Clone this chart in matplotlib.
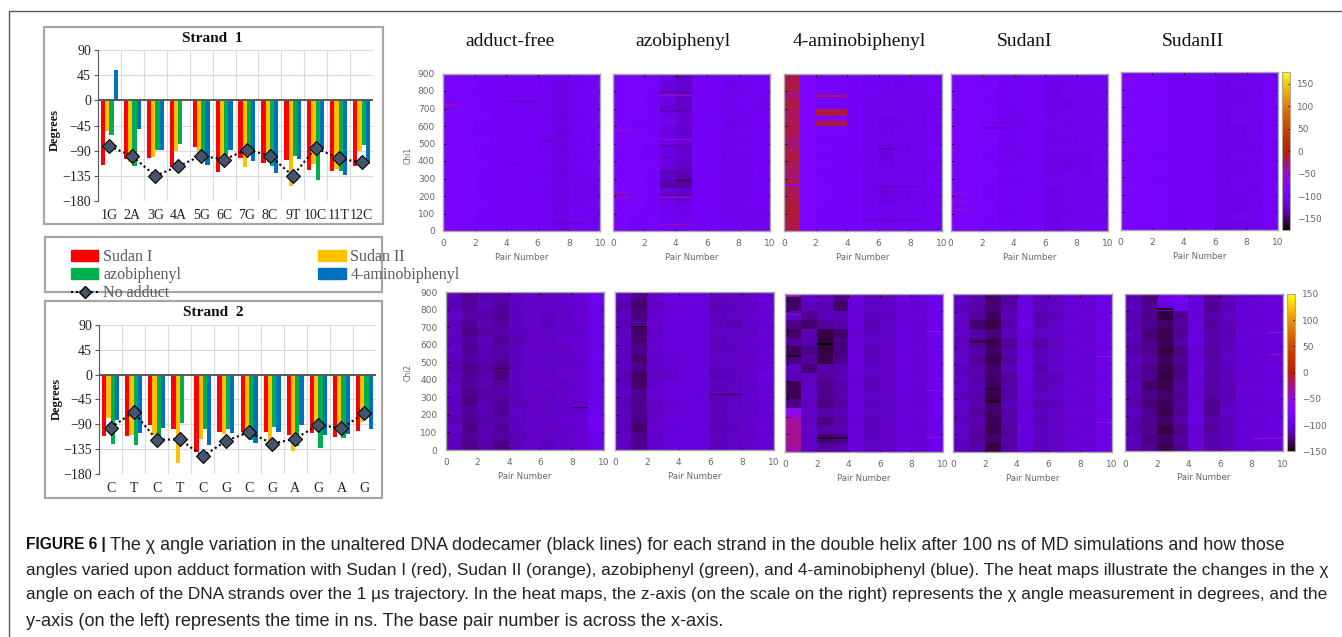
import numpy as np
import matplotlib
matplotlib.use("Agg")
import matplotlib.pyplot as plt
from matplotlib.lines import Line2D
from matplotlib.patches import Patch, Rectangle
from matplotlib.transforms import Bbox

W, H = 1342, 637
SERIF = "Liberation Serif"
SANS = "Liberation Sans"

# bar charts
bases_1 = ["1G", "2A", "3G", "4A", "5G", "6C", "7G", "8C", "9T", "10C", "11T", "12C"]
sudan1_1 = [-115, -105, -104, -120, -84, -129, -104, -112, -107, -124, -126, -118]
sudan2_1 = [-55, -110, -102, -90, -106, -105, -119, -90, -154, -113, -122, -90]
azo_1 = [-62, -118, -88, -78, -95, -98, -90, -118, -100, -143, -126, -80]
amino_1 = [55, -51, -89, 0, -116, -88, -108, -130, -105, -85, -133, -113]
noadd_1 = [-82, -100, -135, -118, -99, -106, -88, -99, -135, -85, -104, -111]

bases_2 = ["C", "T", "C", "T", "C", "G", "C", "G", "A", "G", "A", "G"]
sudan1_2 = [-112, -112, -92, -99, -140, -104, -104, -104, -110, -105, -113, -102]
sudan2_2 = [-78, -110, -110, -160, -117, -108, -100, -125, -139, -90, -93, -85]
azo_2 = [-125, -128, -118, -88, -98, -98, -118, -95, -130, -133, -114, -70]
amino_2 = [-82, -105, -97, 0, -127, -105, -123, -103, -92, -109, -107, -99]
noadd_2 = [-96, -68, -118, -117, -148, -120, -104, -125, -116, -91, -97, -70]

# heat maps, read in blocks of 50 ns, first row is 850-900 ns
adduct_free_1 = [
    [-96, -98, -99, -101, -102, -102, -104, -108, -104, -102],
    [-95, -97, -100, -100, -103, -101, -106, -111, -108, -103],
    [-97, -98, -99, -102, -103, -104, -105, -113, -104, -102],
    [-95, -97, -99, -101, -105, -106, -104, -110, -105, -103],
    [-96, -96, -98, -103, -104, -102, -106, -114, -106, -104],
    [-94, -97, -99, -100, -102, -103, -105, -112, -104, -102],
    [-96, -98, -100, -102, -103, -101, -104, -115, -105, -103],
    [-95, -96, -98, -101, -102, -103, -108, -113, -106, -102],
    [-94, -97, -99, -100, -103, -102, -106, -114, -105, -104],
    [-96, -96, -100, -102, -105, -104, -105, -112, -106, -103],
    [-95, -97, -98, -101, -103, -102, -104, -111, -104, -102],
    [-94, -98, -99, -100, -102, -103, -106, -114, -106, -105],
    [-96, -96, -100, -103, -104, -104, -105, -112, -108, -106],
    [-95, -97, -99, -102, -103, -103, -106, -111, -107, -108],
    [-94, -98, -98, -100, -104, -102, -105, -113, -106, -104],
    [-96, -96, -99, -101, -102, -103, -104, -110, -105, -106],
    [-95, -97, -100, -100, -103, -101, -105, -112, -104, -103],
    [-95, -99, -99, -102, -104, -102, -106, -114, -106, -105],
]
azo_heat_1 = [
    [-94, -96, -99, -112, -124, -103, -104, -108, -106, -103],
    [-96, -98, -98, -116, -120, -102, -103, -110, -108, -104],
    [-95, -97, -100, -110, -122, -102, -105, -107, -105, -105],
    [-94, -96, -99, -116, -124, -103, -103, -106, -105, -107],
    [-96, -97, -98, -112, -120, -101, -104, -108, -106, -103],
    [-95, -99, -100, -108, -118, -102, -105, -110, -107, -105],
    [-94, -96, -99, -114, -122, -104, -103, -107, -105, -104],
    [-96, -97, -98, -110, -116, -102, -104, -108, -106, -105],
    [-95, -96, -100, -112, -122, -103, -105, -106, -105, -104],
    [-94, -98, -99, -114, -120, -101, -103, -109, -108, -105],
    [-93, -96, -98, -116, -122, -103, -104, -107, -106, -104],
    [-94, -97, -99, -124, -130, -102, -105, -108, -109, -103],
    [-95, -96, -100, -128, -136, -104, -103, -106, -105, -104],
    [-92, -96, -98, -116, -122, -102, -104, -107, -106, -105],
    [-93, -97, -99, -110, -116, -103, -103, -108, -105, -103],
    [-94, -96, -100, -106, -110, -101, -105, -106, -106, -107],
    [-95, -99, -98, -104, -108, -102, -104, -107, -108, -105],
    [-94, -103, -99, -106, -108, -103, -103, -106, -109, -108],
]
amino_heat_1 = [
    [-17, -92, -98, -100, -100, -106, -108, -106, -108, -104],
    [-15, -91, -99, -102, -102, -106, -107, -110, -107, -105],
    [-24, -92, -98, -100, -101, -105, -108, -106, -110, -104],
    [-14, -90, -100, -101, -100, -107, -110, -108, -106, -106],
    [-20, -92, -98, -100, -102, -106, -108, -107, -108, -104],
    [-18, -91, -96, -97, -100, -108, -112, -110, -109, -105],
    [-16, -92, -98, -96, -101, -106, -110, -108, -107, -106],
    [-24, -90, -99, -100, -100, -107, -109, -106, -108, -104],
    [-22, -92, -98, -99, -102, -108, -112, -110, -108, -105],
    [-14, -91, -100, -101, -103, -106, -114, -108, -107, -104],
    [-18, -92, -98, -100, -100, -107, -110, -108, -108, -106],
    [-24, -90, -99, -101, -102, -106, -108, -107, -109, -105],
    [-16, -92, -98, -100, -101, -108, -110, -108, -107, -104],
    [-18, -91, -97, -99, -100, -110, -114, -112, -108, -106],
    [-14, -92, -98, -100, -102, -108, -112, -110, -109, -105],
    [-12, -90, -99, -101, -100, -106, -108, -107, -106, -104],
    [-15, -92, -100, -100, -101, -108, -110, -108, -108, -106],
    [-14, -91, -98, -101, -102, -106, -108, -108, -106, -104],
]
sudan1_heat_1 = [
    [-97, -97, -98, -105, -104, -102, -110, -108, -108, -105],
    [-96, -98, -97, -108, -105, -103, -113, -110, -109, -108],
    [-97, -97, -99, -105, -104, -102, -111, -108, -107, -105],
    [-96, -98, -98, -106, -105, -103, -112, -111, -109, -106],
    [-97, -96, -97, -106, -104, -102, -110, -108, -108, -105],
    [-96, -97, -100, -108, -110, -103, -108, -110, -108, -106],
    [-95, -96, -98, -104, -105, -102, -110, -108, -109, -107],
    [-94, -95, -97, -106, -105, -103, -111, -110, -108, -105],
    [-94, -94, -98, -107, -104, -102, -109, -108, -107, -106],
    [-95, -96, -99, -105, -106, -103, -111, -110, -110, -105],
    [-96, -97, -98, -106, -105, -104, -113, -114, -112, -106],
    [-96, -96, -97, -105, -104, -103, -110, -108, -109, -105],
    [-97, -97, -98, -106, -106, -104, -108, -110, -107, -106],
    [-96, -96, -99, -105, -105, -103, -111, -109, -108, -108],
    [-96, -97, -98, -104, -104, -102, -110, -108, -109, -106],
    [-97, -96, -97, -106, -105, -104, -112, -110, -107, -105],
    [-96, -98, -99, -105, -104, -103, -113, -108, -108, -106],
    [-97, -97, -98, -104, -106, -102, -110, -109, -107, -105],
]
sudan2_heat_1 = [
    [-93, -94, -97, -105, -104, -103, -112, -110, -110, -104],
    [-92, -95, -96, -103, -102, -102, -111, -108, -108, -103],
    [-93, -94, -97, -102, -103, -101, -110, -112, -109, -104],
    [-92, -94, -96, -104, -102, -103, -112, -110, -108, -102],
    [-94, -95, -98, -103, -104, -102, -110, -109, -110, -104],
    [-93, -94, -97, -101, -102, -103, -111, -108, -108, -105],
    [-92, -95, -96, -103, -105, -102, -112, -112, -109, -103],
    [-93, -94, -97, -102, -103, -101, -110, -110, -108, -102],
    [-92, -94, -98, -104, -102, -103, -113, -112, -110, -104],
    [-94, -96, -100, -103, -104, -102, -110, -108, -108, -103],
    [-93, -95, -98, -102, -103, -103, -111, -110, -109, -102],
    [-94, -94, -97, -105, -104, -104, -113, -110, -108, -104],
    [-93, -96, -99, -103, -102, -102, -111, -108, -108, -103],
    [-92, -94, -97, -102, -104, -103, -110, -109, -110, -102],
    [-93, -95, -98, -104, -103, -102, -112, -110, -108, -104],
    [-92, -94, -97, -103, -102, -101, -113, -112, -109, -103],
    [-93, -95, -98, -106, -104, -103, -110, -108, -108, -102],
    [-92, -94, -97, -104, -103, -102, -113, -111, -110, -104],
]
adduct_free_2 = [
    [-108, -120, -113, -116, -110, -106, -108, -106, -103, -94],
    [-112, -118, -110, -117, -108, -107, -106, -105, -104, -93],
    [-106, -116, -114, -120, -111, -105, -109, -107, -102, -95],
    [-110, -119, -112, -118, -109, -106, -110, -105, -104, -94],
    [-108, -122, -115, -114, -110, -108, -107, -106, -105, -96],
    [-110, -118, -111, -119, -112, -106, -108, -104, -103, -95],
    [-107, -120, -113, -116, -109, -107, -106, -107, -102, -96],
    [-109, -117, -112, -117, -110, -105, -109, -105, -104, -94],
    [-112, -121, -116, -122, -111, -106, -107, -106, -105, -97],
    [-108, -119, -113, -124, -108, -107, -108, -104, -103, -95],
    [-110, -118, -112, -118, -110, -105, -106, -107, -104, -96],
    [-107, -121, -115, -116, -109, -106, -109, -106, -102, -94],
    [-110, -124, -113, -118, -111, -108, -107, -105, -104, -95],
    [-108, -118, -112, -120, -108, -106, -108, -106, -105, -93],
    [-112, -120, -114, -116, -110, -107, -106, -104, -103, -92],
    [-107, -124, -112, -119, -109, -105, -108, -106, -104, -93],
    [-110, -119, -113, -117, -111, -108, -107, -105, -102, -95],
    [-109, -122, -116, -124, -110, -106, -110, -106, -104, -96],
]
azo_heat_2 = [
    [-110, -122, -106, -100, -100, -100, -110, -108, -106, -102],
    [-114, -128, -108, -101, -99, -101, -112, -110, -107, -101],
    [-108, -124, -105, -99, -100, -100, -109, -107, -105, -103],
    [-112, -120, -104, -100, -98, -99, -110, -112, -106, -102],
    [-110, -130, -106, -101, -100, -100, -108, -108, -108, -101],
    [-108, -126, -105, -99, -99, -101, -110, -107, -105, -102],
    [-111, -122, -104, -100, -100, -100, -109, -109, -106, -103],
    [-110, -128, -106, -102, -101, -99, -107, -106, -107, -100],
    [-109, -122, -106, -104, -100, -100, -110, -108, -105, -102],
    [-112, -130, -108, -106, -100, -101, -112, -110, -106, -98],
    [-110, -128, -105, -100, -99, -100, -108, -108, -107, -100],
    [-108, -120, -104, -99, -100, -102, -111, -110, -105, -101],
    [-112, -122, -106, -102, -101, -100, -112, -108, -106, -102],
    [-110, -120, -107, -101, -100, -99, -109, -107, -107, -103],
    [-109, -124, -105, -100, -99, -100, -110, -108, -105, -102],
    [-111, -128, -104, -102, -100, -101, -112, -110, -106, -101],
    [-110, -122, -106, -100, -99, -100, -109, -107, -107, -103],
    [-108, -120, -105, -101, -100, -101, -110, -108, -105, -102],
]
amino_heat_2 = [
    [-132, -106, -110, -124, -100, -110, -108, -100, -102, -95],
    [-130, -108, -112, -128, -99, -108, -106, -101, -103, -94],
    [-108, -120, -111, -112, -101, -110, -109, -100, -101, -96],
    [-122, -128, -118, -116, -100, -112, -107, -99, -102, -95],
    [-130, -112, -136, -128, -102, -110, -108, -100, -103, -94],
    [-118, -114, -138, -124, -100, -108, -106, -101, -102, -96],
    [-132, -122, -136, -126, -101, -111, -108, -100, -101, -95],
    [-124, -118, -134, -122, -99, -109, -107, -99, -103, -94],
    [-108, -126, -116, -114, -100, -108, -106, -101, -102, -96],
    [-112, -108, -118, -112, -102, -110, -108, -100, -101, -95],
    [-132, -108, -122, -116, -100, -111, -107, -99, -102, -94],
    [-134, -106, -120, -114, -101, -108, -106, -100, -103, -95],
    [-122, -108, -124, -118, -99, -110, -108, -101, -102, -96],
    [-55, -107, -116, -112, -100, -108, -107, -100, -101, -94],
    [-32, -108, -124, -116, -102, -110, -106, -99, -103, -95],
    [-30, -106, -116, -112, -100, -111, -108, -100, -102, -96],
    [-28, -108, -128, -122, -101, -109, -107, -101, -101, -94],
    [-32, -107, -118, -114, -100, -108, -106, -100, -104, -95],
]
sudan1_heat_2 = [
    [-108, -114, -130, -118, -100, -112, -108, -103, -102, -97],
    [-110, -116, -126, -116, -98, -110, -107, -101, -103, -96],
    [-106, -118, -132, -112, -99, -114, -109, -102, -101, -98],
    [-108, -128, -134, -114, -96, -112, -107, -100, -102, -96],
    [-107, -116, -126, -110, -100, -108, -106, -103, -103, -97],
    [-110, -120, -132, -118, -102, -116, -110, -101, -102, -96],
    [-108, -116, -130, -114, -99, -112, -107, -102, -101, -98],
    [-106, -118, -134, -116, -100, -110, -108, -100, -102, -97],
    [-110, -114, -128, -112, -98, -114, -106, -103, -103, -96],
    [-108, -116, -130, -118, -100, -110, -109, -101, -102, -98],
    [-107, -112, -132, -114, -99, -112, -107, -102, -101, -96],
    [-110, -116, -134, -116, -100, -108, -106, -100, -103, -97],
    [-106, -114, -128, -112, -101, -112, -109, -103, -102, -96],
    [-108, -118, -130, -116, -99, -110, -107, -101, -101, -98],
    [-110, -114, -132, -114, -100, -112, -108, -102, -103, -94],
    [-107, -116, -134, -118, -98, -108, -106, -100, -102, -96],
    [-108, -118, -130, -114, -100, -110, -109, -103, -101, -97],
    [-110, -116, -136, -116, -101, -112, -107, -101, -102, -96],
]
sudan2_heat_2 = [
    [-112, -124, -96, -90, -102, -118, -110, -103, -102, -100],
    [-110, -120, -100, -94, -100, -120, -112, -102, -101, -101],
    [-114, -122, -138, -120, -102, -116, -108, -104, -103, -99],
    [-112, -120, -130, -118, -100, -118, -111, -102, -102, -100],
    [-110, -126, -134, -120, -101, -116, -112, -103, -101, -101],
    [-112, -122, -132, -116, -99, -114, -109, -101, -103, -99],
    [-114, -120, -136, -122, -102, -118, -110, -102, -102, -100],
    [-110, -118, -132, -120, -100, -116, -108, -104, -101, -101],
    [-112, -122, -134, -124, -101, -114, -110, -102, -103, -99],
    [-114, -120, -136, -122, -99, -116, -111, -103, -102, -100],
    [-110, -128, -134, -118, -100, -118, -109, -101, -101, -101],
    [-112, -122, -130, -120, -102, -114, -112, -102, -103, -99],
    [-114, -126, -132, -118, -100, -122, -110, -104, -102, -100],
    [-110, -120, -134, -120, -101, -120, -108, -102, -101, -101],
    [-112, -122, -130, -116, -99, -116, -111, -103, -103, -99],
    [-114, -120, -136, -122, -102, -118, -110, -101, -102, -100],
    [-110, -124, -130, -118, -100, -114, -109, -102, -101, -101],
    [-112, -120, -134, -120, -101, -116, -110, -103, -103, -99],
]

# thin features on top of the blocks: first col, last col, from ns, to ns, angle
streaks_top = [
    [(0, 1, 715, 725, -45), (4, 6, 735, 745, -125), (7, 9, 40, 50, -120),
     (6, 8, 510, 520, -118), (4, 5, 385, 390, -120)],
    [(3, 5, 770, 775, -45), (0, 1, 570, 575, -45), (3, 5, 520, 525, -45), (0, 1, 215, 225, -30),
     (0, 1, 190, 195, -40), (3, 5, 190, 195, -40), (3, 5, 35, 40, -45), (4, 5, 280, 300, -150),
     (3, 5, 245, 275, -135), (3, 5, 200, 210, -135), (3, 5, 320, 345, -130), (3, 5, 415, 425, -128),
     (3, 5, 480, 490, -128), (3, 5, 680, 690, -130), (3, 5, 790, 800, -130), (4, 5, 870, 885, -130)],
    [(2, 4, 765, 775, -15), (2, 4, 535, 540, -30), (2, 4, 660, 695, -15), (2, 4, 600, 630, -15),
     (2, 4, 630, 640, -70), (0, 1, 260, 270, -70), (6, 7, 465, 475, -130), (5, 9, 60, 65, -125),
     (6, 9, 250, 255, -125)],
    [(0, 1, 330, 335, -45), (0, 1, 210, 215, -45), (0, 1, 165, 170, -45), (0, 1, 120, 125, -45),
     (2, 4, 585, 595, -120)],
    [(0, 1, 855, 860, -50), (0, 1, 785, 790, -50), (3, 5, 860, 865, -118)],
]
streaks_bottom = [
    [(8, 9, 240, 245, -140), (3, 4, 465, 470, -135), (1, 2, 460, 465, -135), (5, 6, 745, 750, -85)],
    [(1, 2, 700, 710, -150), (1, 2, 620, 630, -138), (6, 8, 315, 320, -135)],
    [(9, 10, 680, 685, -45), (9, 10, 345, 350, -60), (9, 10, 80, 85, -45), (2, 3, 610, 620, -150),
     (2, 4, 75, 85, -140), (0, 1, 540, 550, -145), (0, 1, 680, 690, -140), (0, 1, 880, 900, -40),
     (0, 1, 780, 785, -40)],
    [(9, 10, 540, 545, -45), (9, 10, 165, 170, -45), (2, 3, 280, 300, -140), (2, 3, 355, 365, -140),
     (1, 3, 620, 640, -135)],
    [(9, 10, 800, 805, -60), (9, 10, 675, 680, -45), (9, 10, 550, 555, -45), (8, 10, 70, 75, -50),
     (2, 3, 810, 820, -145)],
]

heat_titles = ["adduct-free", "azobiphenyl", "4-aminobiphenyl", "SudanI", "SudanII"]
title_x = [510, 683, 859, 1025, 1193]
top_maps = [adduct_free_1, azo_heat_1, amino_heat_1, sudan1_heat_1, sudan2_heat_1]
bottom_maps = [adduct_free_2, azo_heat_2, amino_heat_2, sudan1_heat_2, sudan2_heat_2]

# left, top, right, bottom in pixels
top_boxes = [(443.4, 73.5, 600.4, 231), (612.8, 73.5, 770.2, 231), (784, 73.5, 941.7, 231),
             (950.7, 74, 1108, 231), (1120.7, 72.3, 1278, 230)]
bottom_boxes = [(445.8, 292.3, 603.5, 450), (615.2, 292.3, 773.6, 450), (785.3, 293.7, 943, 451.7),
                (953.3, 294, 1111.7, 452), (1125.3, 294, 1283, 451.3)]

caption = [
    "The χ angle variation in the unaltered DNA dodecamer (black lines) for each strand in the double helix after 100 ns of MD simulations and how those",
    "angles varied upon adduct formation with Sudan I (red), Sudan II (orange), azobiphenyl (green), and 4-aminobiphenyl (blue). The heat maps illustrate the changes in the χ",
    "angle on each of the DNA strands over the 1 µs trajectory. In the heat maps, the z-axis (on the scale on the right) represents the χ angle measurement in degrees, and the",
    "y-axis (on the left) represents the time in ns. The base pair number is across the x-axis.",
]
caption_y = [545, 570, 595, 621]
caption_end = [1280, 1323, 1323, 725]

colors = ["#ff0000", "#ffc000", "#00b050", "#0070c0"]

fig = plt.figure(figsize=(W / 100, H / 100), dpi=100)


def px_axes(l, t, r, b):
    return fig.add_axes([l / W, 1 - b / H, (r - l) / W, (b - t) / H])


# overlay in pixel coordinates for frames, titles, caption
bg = fig.add_axes([0, 0, 1, 1], zorder=-1)
bg.set_xlim(0, W)
bg.set_ylim(H, 0)
bg.axis("off")
bg.plot([1342, 9, 9], [11, 11, 637], color="#5a5a5a", lw=1)
for l, t, r, b in [(44, 27, 383, 224), (45, 237, 382, 292), (45, 301, 382, 498)]:
    bg.add_patch(Rectangle((l, t), r - l, b - t, fc="white", ec="#a6a6a6", lw=1.6))


def bar_chart(box, labels, series, line, title, title_xy, deg_xy):
    ax = px_axes(*box)
    x = np.arange(12)
    for k in range(4):
        ax.bar(x + (k - 1.5) * 0.185, series[k], width=0.185, color=colors[k], zorder=2)
    ax.plot(x, line, ls=(0, (1, 1.4)), color="black", lw=1.5, marker="D", ms=7,
            mfc="#44546a", mec="black", mew=0.8, zorder=3)
    ax.axhline(0, color="#595959", lw=1.4, zorder=2.5)
    ax.set_xlim(-0.5, 11.5)
    ax.set_ylim(-180, 90)
    ax.set_yticks(np.arange(-180, 91, 45))
    ax.set_xticks(x)
    ax.set_xticklabels(labels)
    ax.set_xticks(np.arange(-0.5, 12), minor=True)
    ax.grid(True, which="minor", axis="x", color="#d9d9d9", lw=0.8, zorder=0)
    ax.grid(True, which="major", axis="y", color="#d9d9d9", lw=0.8, zorder=0)
    ax.tick_params(axis="x", which="both", length=0, pad=6)
    ax.tick_params(axis="y", length=3, color="#595959", pad=2)
    for s in ["top", "right", "bottom"]:
        ax.spines[s].set_visible(False)
    ax.spines["left"].set_color("#595959")
    for t in ax.get_xticklabels() + ax.get_yticklabels():
        t.set_family(SERIF)
        t.set_fontsize(10)
        t.set_color("#222222")
    bg.text(title_xy[0], title_xy[1], title, family=SERIF, weight="bold", fontsize=11,
            ha="center", va="center", color="#111111")
    bg.text(deg_xy[0], deg_xy[1], "Degrees", family=SERIF, weight="bold", fontsize=9,
            rotation=90, ha="center", va="center", color="#111111")
    return ax


ax1 = bar_chart((98, 50, 373, 201), bases_1, [sudan1_1, sudan2_1, azo_1, amino_1], noadd_1,
                "Strand  1", (212, 39), (55, 130))
ax2 = bar_chart((99, 325, 376, 474), bases_2, [sudan1_2, sudan2_2, azo_2, amino_2], noadd_2,
                "Strand  2", (213, 313), (57, 399))

handles = [Patch(color=colors[0], label="Sudan I"),
           Patch(color=colors[2], label="azobiphenyl"),
           Line2D([], [], ls=(0, (1, 1.4)), color="black", lw=1.5, marker="D", ms=6,
                  mfc="#44546a", mec="black", label="No adduct"),
           Patch(color=colors[1], label="Sudan II"),
           Patch(color=colors[3], label="4-aminobiphenyl")]
fig.legend(handles=handles, ncol=2, loc="upper left", bbox_to_anchor=(60 / W, 1 - 238 / H),
           frameon=False, prop={"family": SERIF, "size": 11.5}, labelcolor="#595959",
           handlelength=1.7, handleheight=0.6, handletextpad=0.3, columnspacing=8.6,
           labelspacing=0.12, borderpad=0.2)


def heat_row(maps, boxes, streaks, vlim, chi, cbar_box, cbar_ticks, chi_y):
    for i in range(5):
        ax = px_axes(*boxes[i])
        fine = np.repeat(np.array(maps[i], dtype=float)[::-1], 10, axis=0)
        for c0, c1, y0, y1, val in streaks[i]:
            fine[y0 // 5:y1 // 5, c0:c1] = val
        mesh = ax.pcolormesh(np.arange(11), np.arange(0, 901, 5), fine, cmap="gnuplot",
                             vmin=-vlim, vmax=vlim)
        ax.set_xlim(0, 10)
        ax.set_ylim(0, 900)
        ax.set_xticks(np.arange(0, 11, 2))
        ax.set_yticks(np.arange(0, 901, 100))
        ax.tick_params(direction="in", length=1.8, width=0.6, color="black", top=True, right=True,
                       labelsize=6.5, labelcolor="#666666", pad=6)
        if i > 0:
            ax.set_yticklabels([])
        for s in ax.spines.values():
            s.set_color("#a8a8a8")
            s.set_linewidth(1)
        ax.set_xlabel("Pair Number", fontsize=6.2, color="#666666", labelpad=3.5)
        if i < 4:
            clip = Bbox([[0, 0], [boxes[i][2] + 4.5, H]])
            ax.get_xticklabels()[-1].set_clip_box(clip)
            ax.get_xticklabels()[-1].set_clip_on(True)
    cax = px_axes(*cbar_box)
    cb = fig.colorbar(mesh, cax=cax, ticks=cbar_ticks)
    cb.outline.set_edgecolor("#a8a8a8")
    cax.tick_params(direction="in", length=1.8, width=0.6, labelsize=6.5, labelcolor="#666666", pad=5)
    bg.text(408, chi_y, chi, fontsize=5.5, color="#666666", rotation=90, ha="center", va="center")


heat_row(top_maps, top_boxes, streaks_top, 175, "Chi1", (1282, 72.3, 1290.3, 230),
         [-150, -100, -50, 0, 50, 100, 150], 155)
heat_row(bottom_maps, bottom_boxes, streaks_bottom, 150, "Chi2", (1286.7, 294, 1295.3, 451.3),
         [-150, -100, -50, 0, 50, 100, 150], 372)

for name, xc in zip(heat_titles, title_x):
    bg.text(xc, 41, name, family=SERIF, fontsize=14, ha="center", va="center", color="#111111")

# caption, each line sized to its width in the reference
rend = fig.canvas.get_renderer()
for n in range(4):
    x0 = 26
    if n == 0:
        head = bg.text(x0, caption_y[n], "FIGURE 6 |", family=SANS, weight="bold", fontsize=11.2,
                       ha="left", va="center", color="#111111")
        x0 = head.get_window_extent(rend).x1 + 4
    t = bg.text(x0, caption_y[n], caption[n], family=SANS, fontsize=11.2, ha="left", va="center",
                color="#222222")
    t.set_fontsize(11.2 * (caption_end[n] - x0) / t.get_window_extent(rend).width)

fig.savefig("out.png", dpi=100)
